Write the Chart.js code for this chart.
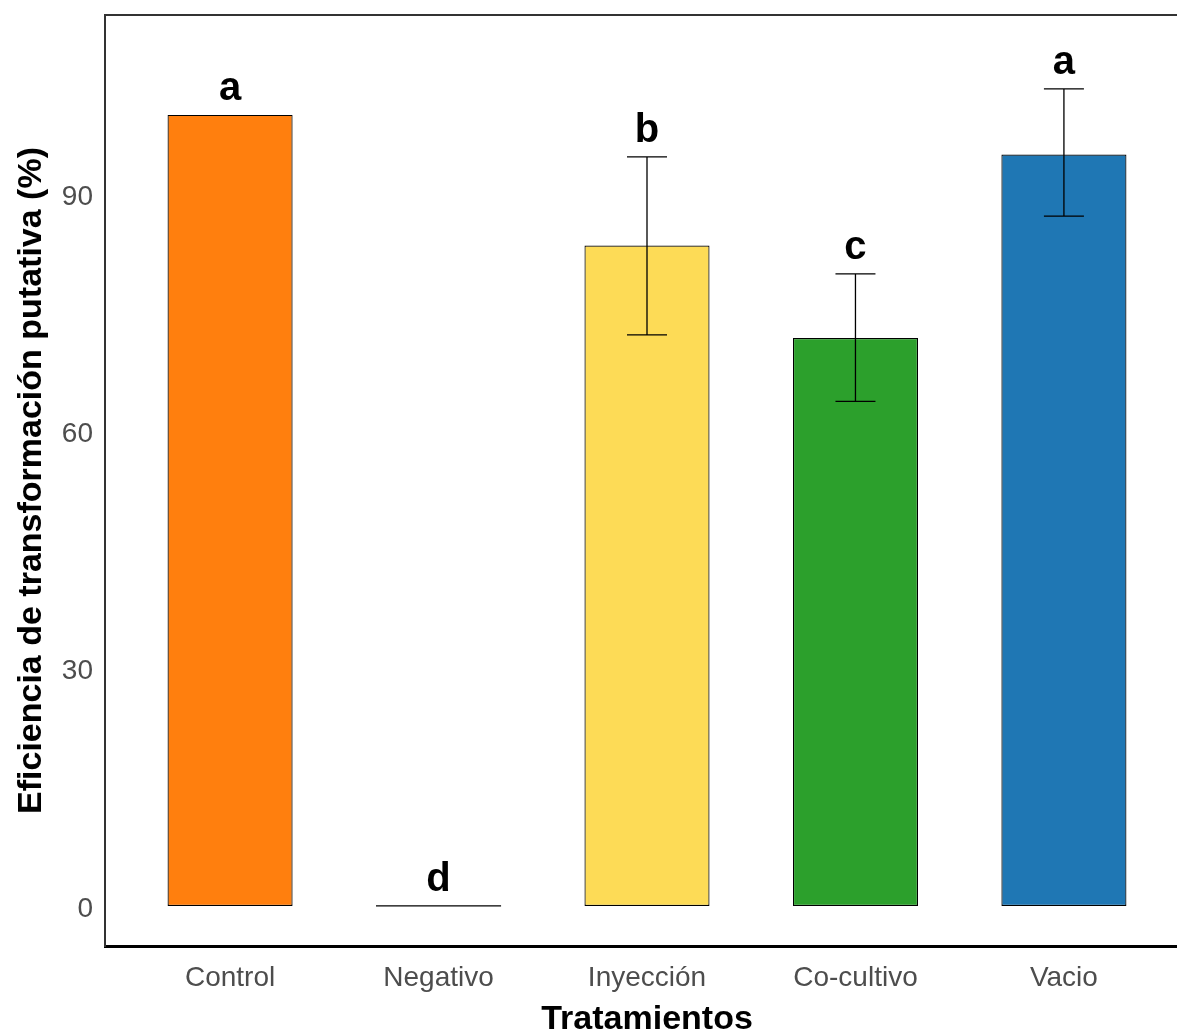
<!DOCTYPE html>
<html>
<head>
<meta charset="utf-8">
<script src="https://cdn.jsdelivr.net/npm/chart.js@4.4.1/dist/chart.umd.min.js"></script>
<style>
	html, body { margin: 0; padding: 0; background: #fff; overflow: hidden; }
	#wrap { width: 1200px; height: 1032px; }
</style>
</head>
<body>
<div id="wrap"><canvas id="bars" width="1200" height="1032"></canvas></div>
<script>
// values
const categories = ["Control", "Negativo", "Inyección", "Co-cultivo", "Vacio"];
const efficiency = [100, 0, 83.5, 71.8, 95];
const errLow = [null, null, 72.2, 63.8, 87.2];
const errHigh = [null, null, 94.7, 79.9, 103.3];
const groupLetters = ["a", "d", "b", "c", "a"];
const barColors = ["#FF7F0E", "#FFFFFF", "#FDDB56", "#2CA02C", "#1F77B4"];
const yTicks = [0, 30, 60, 90];

const FONT = "'Liberation Sans', Arial, sans-serif";

// error bars, letters, the flat "Negativo" bar and the top frame line
const annotations = {
	id: "annotations",
	afterDatasetsDraw(chart) {
		const { ctx, chartArea, scales: { y } } = chart;
		const bars = chart.getDatasetMeta(0).data;
		ctx.save();
		ctx.strokeStyle = "#000";
		ctx.fillStyle = "#000";
		bars.forEach((bar, i) => {
			const { x, y: top, base, width } = bar.getProps(["x", "y", "base", "width"], true);
			// zero-height bar: only its outline shows
			if (Math.abs(base - top) < 1) {
				ctx.lineWidth = 1.2;
				ctx.beginPath();
				ctx.moveTo(x - width / 2, top);
				ctx.lineTo(x + width / 2, top);
				ctx.stroke();
			}
			let peak = top;
			if (errHigh[i] != null) {
				const yl = y.getPixelForValue(errLow[i]);
				const yh = y.getPixelForValue(errHigh[i]);
				const cap = 20;
				ctx.lineWidth = 1.3;
				ctx.beginPath();
				ctx.moveTo(x, yl);
				ctx.lineTo(x, yh);
				ctx.moveTo(x - cap, yl);
				ctx.lineTo(x + cap, yl);
				ctx.moveTo(x - cap, yh);
				ctx.lineTo(x + cap, yh);
				ctx.stroke();
				peak = yh;
			}
			ctx.font = "bold 40px " + FONT;
			ctx.textAlign = "center";
			ctx.textBaseline = "alphabetic";
			ctx.fillText(groupLetters[i], x, peak - 15);
		});
		// top of the panel frame
		ctx.strokeStyle = "#333";
		ctx.lineWidth = 2;
		ctx.beginPath();
		ctx.moveTo(chartArea.left, chartArea.top);
		ctx.lineTo(chartArea.right, chartArea.top);
		ctx.stroke();
		ctx.restore();
	},
};

new Chart(document.getElementById("bars"), {
	type: "bar",
	data: {
		datasets: [
			{
				data: categories.map((c, i) => ({ x: i, y: efficiency[i] })),
				backgroundColor: barColors,
				borderColor: "#000",
				borderWidth: 1.2,
				borderSkipped: false,
				categoryPercentage: 1.0,
				barPercentage: 0.6,
			},
		],
	},
	plugins: [annotations],
	options: {
		responsive: false,
		animation: false,
		events: [],
		layout: { padding: { top: 15, right: 11, left: 0, bottom: 0 } },
		plugins: {
			legend: { display: false },
			tooltip: { enabled: false },
		},
		scales: {
			x: {
				type: "linear",
				offset: false,
				min: -0.6,
				max: 4.6,
				afterBuildTicks: (s) => {
					s.ticks = categories.map((c, i) => ({ value: i }));
				},
				afterFit: (s) => {
					s.height = 86;
					s.paddingLeft = 0;
					s.paddingRight = 0;
				},
				grid: { display: false, drawTicks: false, offset: false },
				border: { display: true, color: "#000", width: 3 },
				ticks: {
					callback: (v, idx) => categories[idx],
					autoSkip: false,
					maxRotation: 0,
					padding: 15,
					color: "#4D4D4D",
					font: { family: FONT, size: 28 },
				},
				title: {
					display: true,
					text: "Tratamientos",
					color: "#000",
					font: { family: FONT, size: 34, weight: "bold", lineHeight: 0.7 },
					padding: { top: 0, bottom: 0 },
				},
			},
			y: {
				min: -5.06,
				max: 112.63,
				afterBuildTicks: (s) => {
					s.ticks = yTicks.map((v) => ({ value: v }));
				},
				afterFit: (s) => {
					s.width = 105;
					s.paddingTop = 0;
					s.paddingBottom = 0;
				},
				grid: { display: false, drawTicks: false },
				border: { display: true, color: "#333", width: 2 },
				ticks: {
					padding: 12,
					labelOffset: 3,
					color: "#4D4D4D",
					font: { family: FONT, size: 28 },
				},
				title: {
					display: true,
					text: "Eficiencia de transformación putativa (%)",
					color: "#000",
					font: { family: FONT, size: 34, weight: "bold", lineHeight: 1 },
					padding: { top: 15, bottom: 0 },
				},
			},
		},
	},
});
</script>
</body>
</html>
